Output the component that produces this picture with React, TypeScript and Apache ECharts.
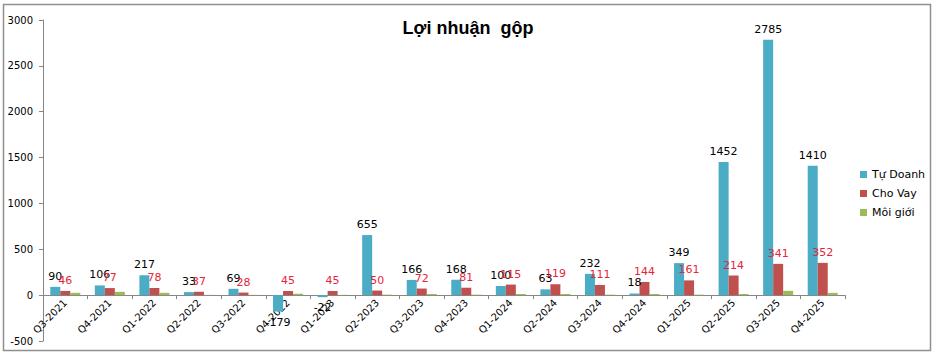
import React, { useEffect, useRef } from "react";
import * as echarts from "echarts";

const categories = [
  "Q3-2021", "Q4-2021", "Q1-2022", "Q2-2022", "Q3-2022", "Q4-2022",
  "Q1-2023", "Q2-2023", "Q3-2023", "Q4-2023", "Q1-2024", "Q2-2024",
  "Q3-2024", "Q4-2024", "Q1-2025", "Q2-2025", "Q3-2025", "Q4-2025",
];
const tuDoanh = [90, 106, 217, 33, 69, -179, -22, 655, 166, 168, 100, 63, 232, 18, 349, 1452, 2785, 1410];
const choVay = [46, 77, 78, 37, 28, 45, 45, 50, 72, 81, 115, 119, 111, 144, 161, 214, 341, 352];
const moiGioi = [25, 36, 25, 3, 3, 15, 3, 5, 12, 5, 12, 12, 5, 12, 5, 12, 47, 25];
const seriesNames = ["Tự Doanh", "Cho Vay", "Môi giới"];
const seriesColors = ["#4BACC6", "#C0504D", "#9BBB59"];
const titleText = "Lợi nhuận  gộp";
const yMin = -500;
const yMax = 3000;
const yStep = 500;

const FONT = "DejaVu Sans";
const GRID_TOP = 20;
const GRID_BOTTOM = 14;
const H = 355;

export default function App() {
  const ref = useRef<HTMLDivElement>(null);
  useEffect(() => {
    document.body.style.margin = "0";
    const chart = echarts.init(ref.current!, null, { renderer: "svg" });
    const gridH = H - GRID_TOP - GRID_BOTTOM;
    const zeroOffset = (gridH * (0 - yMin)) / (yMax - yMin);
    chart.setOption({
      animation: false,
      backgroundColor: "#ffffff",
      title: {
        text: titleText,
        left: "center",
        top: 14,
        textStyle: { fontFamily: "Liberation Sans", fontWeight: "bold", fontSize: 18, color: "#000" },
      },
      legend: {
        orient: "vertical",
        left: 855,
        top: 164,
        itemWidth: 7,
        itemHeight: 7,
        itemGap: 8,
        icon: "rect",
        data: seriesNames,
        textStyle: { fontFamily: FONT, fontSize: 11, color: "#000" },
      },
      grid: { left: 43, right: 91, top: GRID_TOP, bottom: GRID_BOTTOM, containLabel: false, outerBoundsMode: "none" },
      xAxis: {
        type: "category",
        data: categories,
        position: "bottom",
        offset: -zeroOffset,
        axisLine: { onZero: false, lineStyle: { color: "#868686", width: 1 } },
        axisTick: { show: true, length: 4, lineStyle: { color: "#868686" } },
        axisLabel: {
          interval: 0,
          rotate: 45,
          margin: 6,
          fontFamily: FONT,
          fontSize: 10,
          color: "#000",
        },
      },
      yAxis: {
        type: "value",
        min: yMin,
        max: yMax,
        interval: yStep,
        splitLine: { show: false },
        axisLine: { show: true, lineStyle: { color: "#868686", width: 1 } },
        axisTick: { show: true, length: 4, lineStyle: { color: "#868686" } },
        axisLabel: {
          margin: 10,
          fontFamily: FONT,
          fontSize: 10,
          color: "#000",
          formatter: (v: number) => String(v),
        },
      },
      graphic: [
        {
          type: "rect",
          silent: true,
          z: -1,
          shape: { x: 3.5, y: 4.5, width: 927, height: 346 },
          style: { fill: "none", stroke: "#8f8f8f", lineWidth: 1.5 },
        },
      ],
      series: [
        {
          name: seriesNames[0],
          type: "bar",
          barWidth: 10,
          barGap: "0%",
          itemStyle: { color: seriesColors[0] },
          data: tuDoanh.map((v) => ({
            value: v,
            label: { position: v < 0 ? "bottom" : "top" },
          })),
          label: {
            show: true,
            distance: 5,
            fontFamily: FONT,
            fontSize: 11,
            color: "#000",
          },
        },
        {
          name: seriesNames[1],
          type: "bar",
          barWidth: 10,
          barGap: "0%",
          itemStyle: { color: seriesColors[1] },
          data: choVay,
          label: {
            show: true,
            position: "top",
            distance: 5,
            fontFamily: FONT,
            fontSize: 11,
            color: "#e8243a",
          },
        },
        {
          name: seriesNames[2],
          type: "bar",
          barWidth: 10,
          barGap: "0%",
          itemStyle: { color: seriesColors[2] },
          data: moiGioi,
        },
      ],
    });
    return () => chart.dispose();
  }, []);
  return <div ref={ref} style={{ width: 936, height: 355 }} />;
}
